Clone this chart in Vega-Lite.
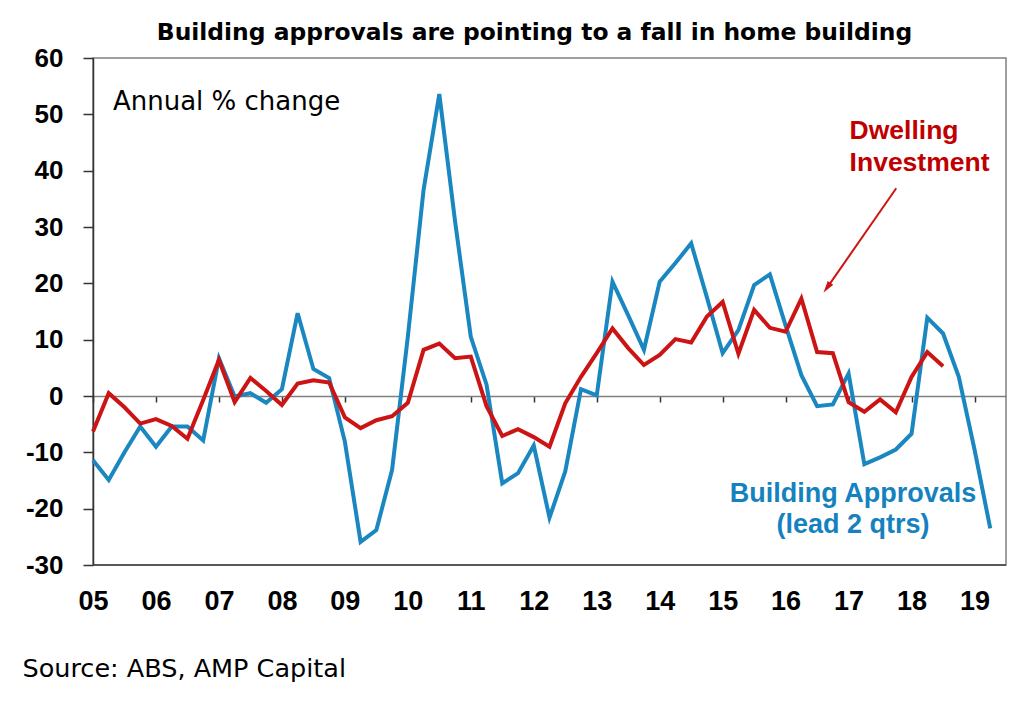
{
  "$schema": "https://vega.github.io/schema/vega-lite/v6.json",
  "width": 913,
  "height": 507,
  "autosize": "none",
  "padding": {"left": 93, "top": 58, "right": 18, "bottom": 139},
  "background": "white",
  "title": {
    "text": "Building approvals are pointing to a fall in home building",
    "font": "DejaVu Sans",
    "fontSize": 23.4,
    "fontWeight": "bold",
    "color": "#000000",
    "anchor": "middle",
    "frame": "group",
    "dx": -15,
    "offset": 0
  },
  "datasets": {
    "series": [
      {"q": 2005, "s": "Building Approvals", "v": -11.4},
      {"q": 2005.25, "s": "Building Approvals", "v": -14.9},
      {"q": 2005.5, "s": "Building Approvals", "v": -10},
      {"q": 2005.75, "s": "Building Approvals", "v": -5.4},
      {"q": 2006, "s": "Building Approvals", "v": -9},
      {"q": 2006.25, "s": "Building Approvals", "v": -5.4},
      {"q": 2006.5, "s": "Building Approvals", "v": -5.4},
      {"q": 2006.75, "s": "Building Approvals", "v": -7.9},
      {"q": 2007, "s": "Building Approvals", "v": 6.7},
      {"q": 2007.25, "s": "Building Approvals", "v": -0.1},
      {"q": 2007.5, "s": "Building Approvals", "v": 0.5},
      {"q": 2007.75, "s": "Building Approvals", "v": -1.2},
      {"q": 2008, "s": "Building Approvals", "v": 1.2},
      {"q": 2008.25, "s": "Building Approvals", "v": 14.7},
      {"q": 2008.5, "s": "Building Approvals", "v": 4.8},
      {"q": 2008.75, "s": "Building Approvals", "v": 3.2},
      {"q": 2009, "s": "Building Approvals", "v": -8.1},
      {"q": 2009.25, "s": "Building Approvals", "v": -25.9},
      {"q": 2009.5, "s": "Building Approvals", "v": -23.8},
      {"q": 2009.75, "s": "Building Approvals", "v": -13.1},
      {"q": 2010, "s": "Building Approvals", "v": 10.5},
      {"q": 2010.25, "s": "Building Approvals", "v": 36.6},
      {"q": 2010.5, "s": "Building Approvals", "v": 53.6},
      {"q": 2010.75, "s": "Building Approvals", "v": 31},
      {"q": 2011, "s": "Building Approvals", "v": 10.5},
      {"q": 2011.25, "s": "Building Approvals", "v": 2.0},
      {"q": 2011.5, "s": "Building Approvals", "v": -15.5},
      {"q": 2011.75, "s": "Building Approvals", "v": -13.7},
      {"q": 2012, "s": "Building Approvals", "v": -8.8},
      {"q": 2012.25, "s": "Building Approvals", "v": -21.6},
      {"q": 2012.5, "s": "Building Approvals", "v": -13.4},
      {"q": 2012.75, "s": "Building Approvals", "v": 1.2},
      {"q": 2013, "s": "Building Approvals", "v": 0.1},
      {"q": 2013.25, "s": "Building Approvals", "v": 20.3},
      {"q": 2013.5, "s": "Building Approvals", "v": 14.3},
      {"q": 2013.75, "s": "Building Approvals", "v": 8.2},
      {"q": 2014, "s": "Building Approvals", "v": 20.3},
      {"q": 2014.25, "s": "Building Approvals", "v": 23.6},
      {"q": 2014.5, "s": "Building Approvals", "v": 27.1},
      {"q": 2014.75, "s": "Building Approvals", "v": 17.5},
      {"q": 2015, "s": "Building Approvals", "v": 7.6},
      {"q": 2015.25, "s": "Building Approvals", "v": 11.7},
      {"q": 2015.5, "s": "Building Approvals", "v": 19.7},
      {"q": 2015.75, "s": "Building Approvals", "v": 21.6},
      {"q": 2016, "s": "Building Approvals", "v": 12.5},
      {"q": 2016.25, "s": "Building Approvals", "v": 3.7},
      {"q": 2016.5, "s": "Building Approvals", "v": -1.8},
      {"q": 2016.75, "s": "Building Approvals", "v": -1.5},
      {"q": 2017, "s": "Building Approvals", "v": 4.0},
      {"q": 2017.25, "s": "Building Approvals", "v": -12.1},
      {"q": 2017.5, "s": "Building Approvals", "v": -10.9},
      {"q": 2017.75, "s": "Building Approvals", "v": -9.5},
      {"q": 2018, "s": "Building Approvals", "v": -6.7},
      {"q": 2018.25, "s": "Building Approvals", "v": 13.9},
      {"q": 2018.5, "s": "Building Approvals", "v": 11.1},
      {"q": 2018.75, "s": "Building Approvals", "v": 3.4},
      {"q": 2019, "s": "Building Approvals", "v": -9.5},
      {"q": 2019.25, "s": "Building Approvals", "v": -23.5},
      {"q": 2005, "s": "Dwelling Investment", "v": -6.3},
      {"q": 2005.25, "s": "Dwelling Investment", "v": 0.5},
      {"q": 2005.5, "s": "Dwelling Investment", "v": -2},
      {"q": 2005.75, "s": "Dwelling Investment", "v": -4.9},
      {"q": 2006, "s": "Dwelling Investment", "v": -4.1},
      {"q": 2006.25, "s": "Dwelling Investment", "v": -5.3},
      {"q": 2006.5, "s": "Dwelling Investment", "v": -7.6},
      {"q": 2006.75, "s": "Dwelling Investment", "v": -0.7},
      {"q": 2007, "s": "Dwelling Investment", "v": 6.4},
      {"q": 2007.25, "s": "Dwelling Investment", "v": -1.1},
      {"q": 2007.5, "s": "Dwelling Investment", "v": 3.2},
      {"q": 2007.75, "s": "Dwelling Investment", "v": 0.9},
      {"q": 2008, "s": "Dwelling Investment", "v": -1.6},
      {"q": 2008.25, "s": "Dwelling Investment", "v": 2.2},
      {"q": 2008.5, "s": "Dwelling Investment", "v": 2.8},
      {"q": 2008.75, "s": "Dwelling Investment", "v": 2.4},
      {"q": 2009, "s": "Dwelling Investment", "v": -3.8},
      {"q": 2009.25, "s": "Dwelling Investment", "v": -5.7},
      {"q": 2009.5, "s": "Dwelling Investment", "v": -4.3},
      {"q": 2009.75, "s": "Dwelling Investment", "v": -3.6},
      {"q": 2010, "s": "Dwelling Investment", "v": -1.2},
      {"q": 2010.25, "s": "Dwelling Investment", "v": 8.2},
      {"q": 2010.5, "s": "Dwelling Investment", "v": 9.3},
      {"q": 2010.75, "s": "Dwelling Investment", "v": 6.7},
      {"q": 2011, "s": "Dwelling Investment", "v": 7.0},
      {"q": 2011.25, "s": "Dwelling Investment", "v": -1.8},
      {"q": 2011.5, "s": "Dwelling Investment", "v": -7.1},
      {"q": 2011.75, "s": "Dwelling Investment", "v": -5.9},
      {"q": 2012, "s": "Dwelling Investment", "v": -7.3},
      {"q": 2012.25, "s": "Dwelling Investment", "v": -9.0},
      {"q": 2012.5, "s": "Dwelling Investment", "v": -1.3},
      {"q": 2012.75, "s": "Dwelling Investment", "v": 3.4},
      {"q": 2013, "s": "Dwelling Investment", "v": 7.6},
      {"q": 2013.25, "s": "Dwelling Investment", "v": 12.0},
      {"q": 2013.5, "s": "Dwelling Investment", "v": 8.5},
      {"q": 2013.75, "s": "Dwelling Investment", "v": 5.5},
      {"q": 2014, "s": "Dwelling Investment", "v": 7.3},
      {"q": 2014.25, "s": "Dwelling Investment", "v": 10.1},
      {"q": 2014.5, "s": "Dwelling Investment", "v": 9.5},
      {"q": 2014.75, "s": "Dwelling Investment", "v": 14.1},
      {"q": 2015, "s": "Dwelling Investment", "v": 16.7},
      {"q": 2015.25, "s": "Dwelling Investment", "v": 7.5},
      {"q": 2015.5, "s": "Dwelling Investment", "v": 15.3},
      {"q": 2015.75, "s": "Dwelling Investment", "v": 12.1},
      {"q": 2016, "s": "Dwelling Investment", "v": 11.4},
      {"q": 2016.25, "s": "Dwelling Investment", "v": 17.3},
      {"q": 2016.5, "s": "Dwelling Investment", "v": 7.8},
      {"q": 2016.75, "s": "Dwelling Investment", "v": 7.6},
      {"q": 2017, "s": "Dwelling Investment", "v": -1.1},
      {"q": 2017.25, "s": "Dwelling Investment", "v": -2.8},
      {"q": 2017.5, "s": "Dwelling Investment", "v": -0.6},
      {"q": 2017.75, "s": "Dwelling Investment", "v": -2.9},
      {"q": 2018, "s": "Dwelling Investment", "v": 3.4},
      {"q": 2018.25, "s": "Dwelling Investment", "v": 7.8},
      {"q": 2018.5, "s": "Dwelling Investment", "v": 5.3}
    ]
  },
  "encoding": {
    "x": {
      "field": "q",
      "type": "quantitative",
      "scale": {"domain": [2005, 2019.5], "nice": false, "zero": false},
      "axis": {
        "values": [2005, 2006, 2007, 2008, 2009, 2010, 2011, 2012, 2013, 2014, 2015, 2016, 2017, 2018, 2019],
        "labelExpr": "format(datum.value - 2000, '02d')",
        "offset": -169,
        "grid": false,
        "domainColor": "#7f7f7f",
        "domainWidth": 1.5,
        "tickColor": "#333333",
        "tickSize": 6,
        "tickWidth": 1.5,
        "labelFont": "Liberation Sans",
        "labelFontSize": 27,
        "labelFontWeight": "bold",
        "labelColor": "#000000",
        "labelPadding": 186,
        "labelFlush": false,
        "labelOverlap": false,
        "title": "Source: ABS, AMP Capital",
        "titleFont": "DejaVu Sans",
        "titleFontSize": 25.5,
        "titleFontWeight": "normal",
        "titleColor": "#000000",
        "titleAlign": "left",
        "titleAnchor": "start",
        "titleBaseline": "alphabetic",
        "titleX": -71,
        "titleY": 280
      }
    },
    "y": {
      "field": "v",
      "type": "quantitative",
      "scale": {"domain": [-30, 60], "nice": false},
      "axis": {
        "values": [-30, -20, -10, 0, 10, 20, 30, 40, 50, 60],
        "labelExpr": "'' + datum.value",
        "title": null,
        "grid": false,
        "domainColor": "#333333",
        "domainWidth": 1.5,
        "tickColor": "#333333",
        "tickSize": 10,
        "tickWidth": 1.5,
        "labelFont": "Liberation Sans",
        "labelFontSize": 26,
        "labelFontWeight": "bold",
        "labelColor": "#000000",
        "labelPadding": 20,
        "labelFlush": false,
        "labelOverlap": false
      }
    }
  },
  "layer": [
    {
      "data": {"values": [{"q": 2005, "q2": 2019.5, "v": -30}]},
      "mark": {"type": "rule", "color": "#404040", "strokeWidth": 1.5},
      "encoding": {"x2": {"field": "q2"}}
    },
    {
      "data": {"name": "series"},
      "mark": {"type": "line", "strokeWidth": 4},
      "encoding": {
        "color": {
          "field": "s",
          "type": "nominal",
          "scale": {"domain": ["Building Approvals", "Dwelling Investment"], "range": ["#1a87c0", "#cc1414"]},
          "legend": null
        }
      }
    },
    {
      "data": {"values": [{"q": 2017.757, "v": 36.87, "q2": 2016.657, "v2": 19.2}]},
      "mark": {"type": "rule", "color": "#cc1414", "strokeWidth": 2},
      "encoding": {"x2": {"field": "q2"}, "y2": {"field": "v2"}}
    },
    {
      "data": {"values": [{"q": 2016.657, "v": 19.2}]},
      "mark": {"type": "point", "shape": "M0,-1L0.55,1L-0.55,1Z", "filled": true, "color": "#cc1414", "opacity": 1, "size": 150, "angle": 214.8, "strokeWidth": 0}
    },
    {
      "data": {"values": [{"q": 2005.317, "v": 50.8, "label": "Annual % change"}]},
      "mark": {"type": "text", "align": "left", "baseline": "alphabetic", "font": "DejaVu Sans", "fontSize": 26, "color": "#000000"},
      "encoding": {"text": {"field": "label"}}
    },
    {
      "data": {"values": [
        {"q": 2017.016, "v": 45.6, "label": "Dwelling"},
        {"q": 2017.016, "v": 39.9, "label": "Investment"}
      ]},
      "mark": {"type": "text", "align": "left", "baseline": "alphabetic", "font": "Liberation Sans", "fontSize": 26.5, "fontWeight": "bold", "color": "#c00000"},
      "encoding": {"text": {"field": "label"}}
    },
    {
      "data": {"values": [
        {"q": 2017.071, "v": -18.8, "label": "Building Approvals"},
        {"q": 2017.071, "v": -24.3, "label": "(lead 2 qtrs)"}
      ]},
      "mark": {"type": "text", "align": "center", "baseline": "alphabetic", "font": "Liberation Sans", "fontSize": 27, "fontWeight": "bold", "color": "#1582bf"},
      "encoding": {"text": {"field": "label"}}
    }
  ],
  "config": {
    "view": {"stroke": "#808080", "strokeWidth": 1.5}
  }
}
